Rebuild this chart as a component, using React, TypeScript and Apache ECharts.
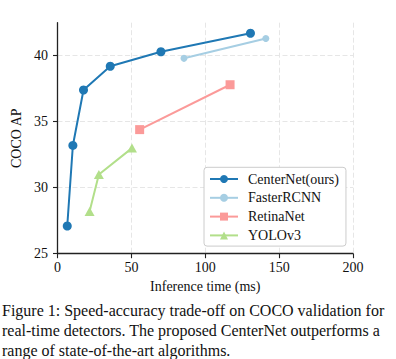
import React, { useEffect, useRef } from 'react';
import * as echarts from 'echarts';

const seriesNames = ['CenterNet(ours)', 'FasterRCNN', 'RetinaNet', 'YOLOv3'];
const centerNetTime = [6.6, 10.4, 17.6, 35.7, 70.0, 130.6];
const centerNetAP = [27.1, 33.2, 37.4, 39.2, 40.3, 41.7];
const fasterTime = [85.6, 141.0];
const fasterAP = [39.8, 41.3];
const retinaTime = [55.6, 116.8];
const retinaAP = [34.4, 37.8];
const yoloTime = [21.7, 28.0, 50.4];
const yoloAP = [28.2, 31.0, 33.0];
const yTicks = [25, 30, 35, 40];
const captionLines = [
  'Figure 1: Speed-accuracy trade-off on COCO validation for',
  'real-time detectors. The proposed CenterNet outperforms a',
  'range of state-of-the-art algorithms.',
];

const colors = ['#1f78b4', '#a6cee3', '#fb9a99', '#b2df8a'];
const FONT = '"Liberation Serif", "Times New Roman", serif';

const zip = (xs: number[], ys: number[]) => xs.map((x, i) => [x, ys[i]]);

export default function App() {
  const ref = useRef<HTMLDivElement>(null);
  useEffect(() => {
    if (!ref.current) return;
    const chart = echarts.init(ref.current, undefined, { renderer: 'svg' });
    const mk = (i: number, xs: number[], ys: number[], symbol: string, size: any) => ({
      name: seriesNames[i],
      type: 'line',
      data: zip(xs, ys),
      symbol,
      symbolSize: size,
      showSymbol: true,
      lineStyle: { color: colors[i], width: 2 },
      itemStyle: { color: colors[i], borderWidth: 0 },
      emphasis: { disabled: true },
    });
    const tickLabel = { fontFamily: FONT, fontSize: 14, color: '#111' };
    chart.setOption({
      animation: false,
      backgroundColor: '#ffffff',
      grid: { left: 57.5, right: 43, top: 22.7, bottom: 105.3, outerBoundsMode: 'none' },
      xAxis: {
        type: 'value',
        min: 0,
        max: 200,
        interval: 50,
        name: 'Inference time (ms)',
        nameLocation: 'middle',
        nameGap: 23,
        nameTextStyle: { fontFamily: FONT, fontSize: 14, color: '#111' },
        axisLine: { show: true, onZero: false, lineStyle: { color: '#222', width: 1.3 } },
        axisTick: { show: true, inside: false, length: 4.5, lineStyle: { color: '#222', width: 1.1 } },
        axisLabel: { ...tickLabel, margin: 7 },
        splitLine: { show: true, lineStyle: { color: '#e6e6e6', width: 1, type: [5, 2.5] } },
      },
      yAxis: {
        type: 'value',
        min: 25,
        max: 42.5,
        interval: 5,
        name: 'COCO AP',
        nameLocation: 'middle',
        nameGap: 31,
        nameTextStyle: { fontFamily: FONT, fontSize: 14, color: '#111' },
        axisLine: { show: true, onZero: false, lineStyle: { color: '#222', width: 1.3 } },
        axisTick: { show: true, inside: false, length: 4.5, customValues: yTicks, lineStyle: { color: '#222', width: 1.1 } },
        axisLabel: { ...tickLabel, margin: 9.5, customValues: yTicks },
        splitLine: {
          show: true,
          lineStyle: {
            color: ['rgba(0,0,0,0)', '#e6e6e6', '#e6e6e6', '#e6e6e6', 'rgba(0,0,0,0)'],
            width: 1,
            type: [5, 2.5],
          },
        },
      },
      legend: {
        orient: 'vertical',
        left: 204,
        top: 167.3,
        itemWidth: 28,
        itemHeight: 10,
        itemGap: 4.8,
        padding: [4.7, 7, 3.7, 5],
        borderColor: '#cccccc',
        borderWidth: 1,
        borderRadius: 3,
        backgroundColor: '#ffffff',
        textStyle: { fontFamily: FONT, fontSize: 14, color: '#111', padding: [0, 0, 0, 5] },
        data: seriesNames,
      },
      series: [
        mk(0, centerNetTime, centerNetAP, 'circle', 9),
        mk(1, fasterTime, fasterAP, 'circle', 7),
        mk(2, retinaTime, retinaAP, 'rect', 9),
        mk(3, yoloTime, yoloAP, 'triangle', [10, 9]),
      ],
      graphic: captionLines.map((t, i) => ({
        type: 'text',
        x: 2,
        y: 310.8 + i * 19.8,
        style: {
          text: t,
          font: `16px ${FONT}`,
          fill: '#111',
          textVerticalAlign: 'middle',
          verticalAlign: 'middle',
        },
      })),
    });
    return () => chart.dispose();
  }, []);
  return (
    <div
      ref={ref}
      style={{ position: 'absolute', left: 0, top: 0, width: 396, height: 359, background: '#fff' }}
    />
  );
}
